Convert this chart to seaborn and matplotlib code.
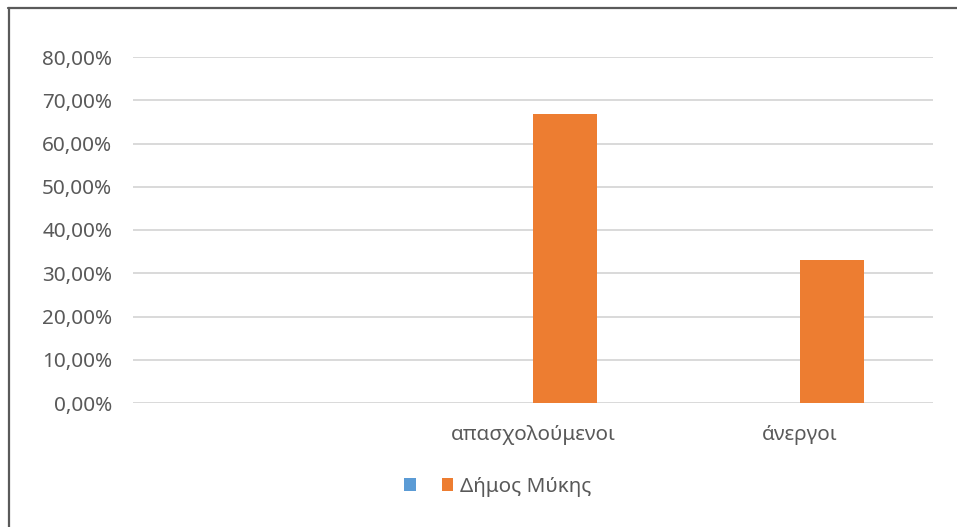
import matplotlib
matplotlib.use("Agg")
import matplotlib.pyplot as plt
from matplotlib.patches import Patch
from matplotlib.lines import Line2D
from matplotlib.ticker import FuncFormatter
import seaborn as sns
import pandas as pd

categories = ["", "απασχολούμενοι", "άνεργοι"]
series_blue_name = "s1"
series_blue = [0.0, 0.0, 0.0]
series_orange_name = "Δήμος Μύκης"
series_orange = [0.0, 0.669, 0.331]
yticks = [0.0, 0.1, 0.2, 0.3, 0.4, 0.5, 0.6, 0.7, 0.8]

BLUE = "#5b9bd5"
ORANGE = "#ed7d31"
TXT = "#595959"
GRID = "#d9d9d9"
FS = 14.9

sns.set_theme(style="white")
plt.rcParams["font.family"] = ["Noto Sans", "DejaVu Sans"]

df = pd.DataFrame({
    "cat": categories * 2,
    "series": [series_blue_name] * 3 + [series_orange_name] * 3,
    "value": series_blue + series_orange,
})

fig = plt.figure(figsize=(9.57, 5.27), dpi=100)
ax = fig.add_axes([133 / 957, 1 - 403 / 527, (933 - 133) / 957, (403 - 57) / 527])

sns.barplot(data=df, x="cat", y="value", hue="series", order=categories,
            hue_order=[series_blue_name, series_orange_name],
            palette={series_blue_name: BLUE, series_orange_name: ORANGE},
            saturation=1, width=0.48, gap=0, linewidth=0, legend=False, ax=ax, zorder=3)

ax.set_ylim(0, 0.8)
ax.set_xlim(-0.5, 2.5)
ax.set_yticks(yticks)
ax.yaxis.set_major_formatter(FuncFormatter(lambda v, p: f"{v*100:.2f}%".replace(".", ",")))
ax.grid(axis="y", color=GRID, linewidth=1.4, zorder=0)
ax.set_axisbelow(True)
for s in ax.spines.values():
    s.set_visible(False)
ax.set_xlabel("")
ax.set_ylabel("")
ax.tick_params(axis="both", length=0, colors=TXT, labelsize=FS)
ax.tick_params(axis="y", pad=15)
ax.tick_params(axis="x", pad=15.5)

handles = [Patch(facecolor=BLUE, edgecolor="none"), Patch(facecolor=ORANGE, edgecolor="none")]
leg = fig.legend(handles, ["", series_orange_name], loc="center",
                 bbox_to_anchor=(498 / 957, 1 - 487 / 527), ncol=2, frameon=False,
                 fontsize=FS, handlelength=0.55, handleheight=0.55,
                 handletextpad=0.35, columnspacing=0.9, labelcolor=TXT)

# outer border (top and left)
fig.add_artist(Line2D([8 / 957, 1.0], [1 - 8 / 527, 1 - 8 / 527], color="#5a5a5a", linewidth=1.6,
                      transform=fig.transFigure))
fig.add_artist(Line2D([8.5 / 957, 8.5 / 957], [0.0, 1 - 8 / 527], color="#5a5a5a", linewidth=1.6,
                      transform=fig.transFigure))

fig.savefig("out.png", dpi=100, facecolor="white")
